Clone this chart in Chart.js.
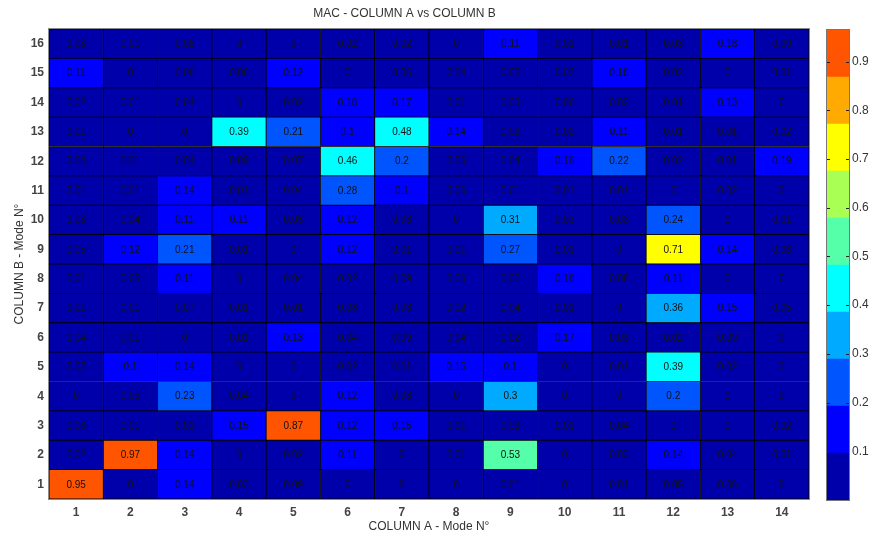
<!DOCTYPE html>
<html>
<head>
<meta charset="utf-8">
<script src="https://cdn.jsdelivr.net/npm/chart.js@4.4.0/dist/chart.umd.min.js"></script>
<style>
  html, body { margin: 0; padding: 0; background: #fff; }
  #wrap { position: relative; width: 871px; height: 535px; }
  #mac { position: absolute; left: 0; top: 0; }
  #bar { position: absolute; left: 800px; top: 0; }
</style>
</head>
<body>
<div id="wrap">
  <canvas id="mac" width="871" height="535"></canvas>
  <canvas id="bar" width="71" height="535"></canvas>
</div>
<script>
// colonnes (COLUMN A) et lignes (COLUMN B)
const colLabels = ['1','2','3','4','5','6','7','8','9','10','11','12','13','14'];
const rowLabels = [1,2,3,4,5,6,7,8,9,10,11,12,13,14,15,16];

// valeurs MAC, une liste par mode de COLUMN B
const b1  = [0.95, 0,    0.14, 0.03, 0.09, 0,    0,    0,    0.01, 0,    0.01, 0.05, 0.06, 0];
const b2  = [0.02, 0.97, 0.14, 0,    0.02, 0.11, 0,    0.01, 0.53, 0,    0.03, 0.14, 0.04, 0.01];
const b3  = [0.06, 0.01, 0.01, 0.15, 0.87, 0.12, 0.15, 0.01, 0.03, 0.01, 0.04, 0,    0,    0.02];
const b4  = [0,    0.05, 0.23, 0.04, 0,    0.12, 0.03, 0,    0.3,  0,    0,    0.2,  0,    0];
const b5  = [0.07, 0.1,  0.14, 0,    0,    0.02, 0.01, 0.15, 0.1,  0,    0.01, 0.39, 0.02, 0];
const b6  = [0.04, 0.01, 0,    0.01, 0.13, 0.04, 0.09, 0.04, 0.02, 0.17, 0.03, 0.02, 0.09, 0];
const b7  = [0.01, 0.01, 0.07, 0.01, 0.01, 0.03, 0.03, 0.02, 0.04, 0.01, 0,    0.36, 0.15, 0.05];
const b8  = [0.01, 0.05, 0.11, 0,    0.04, 0.02, 0.09, 0.06, 0.02, 0.18, 0.08, 0.11, 0,    0];
const b9  = [0.05, 0.12, 0.21, 0.01, 0,    0.12, 0.01, 0.01, 0.27, 0.01, 0,    0.71, 0.14, 0.03];
const b10 = [0.03, 0.04, 0.11, 0.11, 0.03, 0.12, 0.03, 0,    0.31, 0.03, 0.03, 0.24, 0,    0.01];
const b11 = [0.01, 0.01, 0.14, 0.01, 0.04, 0.28, 0.1,  0.06, 0.01, 0.01, 0.01, 0,    0.02, 0];
const b12 = [0.04, 0.01, 0.04, 0.09, 0.07, 0.46, 0.2,  0.05, 0.04, 0.16, 0.22, 0.02, 0.01, 0.19];
const b13 = [0.01, 0,    0,    0.39, 0.21, 0.1,  0.48, 0.14, 0.03, 0.02, 0.11, 0.01, 0.01, 0.02];
const b14 = [0.02, 0.01, 0.04, 0,    0.02, 0.18, 0.17, 0.01, 0.03, 0.06, 0.02, 0.01, 0.13, 0];
const b15 = [0.11, 0,    0.06, 0.06, 0.12, 0,    0.06, 0.04, 0.05, 0.03, 0.18, 0.02, 0,    0.01];
const b16 = [0.03, 0.01, 0.08, 0,    0,    0.02, 0.02, 0,    0.11, 0.01, 0.01, 0.03, 0.18, 0.09];
const rows = [b1,b2,b3,b4,b5,b6,b7,b8,b9,b10,b11,b12,b13,b14,b15,b16];

// colorbar
const barTicks = [0.1,0.2,0.3,0.4,0.5,0.6,0.7,0.8,0.9];
const CMIN = 0, CMAX = 0.965;
const jet10 = [
  'rgb(0,0,170)','rgb(0,0,255)','rgb(0,85,255)','rgb(0,170,255)','rgb(0,255,255)',
  'rgb(85,255,170)','rgb(170,255,85)','rgb(255,255,0)','rgb(255,170,0)','rgb(255,85,0)'
];

function colorOf(v){
    let i = Math.floor((v - CMIN) / (CMAX - CMIN) * jet10.length);
    i = Math.max(0, Math.min(jet10.length - 1, i));
    return jet10[i];
}

const FONT = '"Liberation Sans", Arial, sans-serif';
const TXT = '#333';

// texte des cellules + cadre
const cellText = {
    id: 'cellText',
    afterDatasetsDraw(chart){
        const c = chart.ctx;
        c.save();
        c.font = '10px ' + FONT;
        c.fillStyle = '#111';
        c.textAlign = 'center';
        c.textBaseline = 'middle';
        chart.data.datasets.forEach((ds, i) => {
            const meta = chart.getDatasetMeta(i);
            meta.data.forEach((el, j) => {
                c.fillText(String(ds.values[j]), el.x, (el.y + el.base) / 2 + 0.5);
            });
        });
        const a = chart.chartArea;
        c.strokeStyle = '#8a8a8a';
        c.lineWidth = 1;
        c.strokeRect(a.left - 0.5, a.top - 0.5, a.right - a.left + 1, a.bottom - a.top + 1);
        c.restore();
    }
};

const datasets = rows.map((vals, r) => ({
    label: 'B' + rowLabels[r],
    values: vals,
    data: vals.map(() => [rowLabels[r] - 0.5, rowLabels[r] + 0.5]),
    backgroundColor: vals.map(colorOf),
    borderColor: '#000',
    borderWidth: 0.8,
    borderSkipped: false,
    grouped: false,
    barPercentage: 1,
    categoryPercentage: 1
}));

new Chart(document.getElementById('mac'), {
    type: 'bar',
    data: { labels: colLabels, datasets: datasets },
    options: {
        responsive: false,
        animation: false,
        events: [],
        layout: { padding: { left: 0, right: 62, top: 0, bottom: 0 } },
        plugins: {
            legend: { display: false },
            tooltip: { enabled: false },
            title: {
                display: true,
                text: 'MAC - COLUMN A vs COLUMN B',
                color: TXT,
                font: { family: FONT, size: 12, weight: 'normal' },
                padding: { top: 6, bottom: 8.6 }
            }
        },
        scales: {
            x: {
                grid: { display: false, drawTicks: false },
                border: { display: false },
                ticks: { color: '#444', padding: 6, font: { family: FONT, size: 12, weight: 'bold' } },
                title: { display: true, text: 'COLUMN A - Mode N°', color: TXT, padding: { top: 0, bottom: 1 },
                         font: { family: FONT, size: 12 } },
                afterFit: s => { s.height = 36; }
            },
            y: {
                type: 'linear',
                min: 0.5,
                max: 16.5,
                afterBuildTicks: s => { s.ticks = rowLabels.map(v => ({ value: v })); },
                grid: { display: false, drawTicks: false },
                border: { display: false },
                ticks: { color: '#444', padding: 5, font: { family: FONT, size: 12, weight: 'bold' } },
                title: { display: true, text: 'COLUMN B - Mode N°', color: TXT, padding: { top: 12, bottom: 0 },
                         font: { family: FONT, size: 12 } },
                afterFit: s => { s.width = 49; }
            }
        }
    },
    plugins: [cellText]
});

// colorbar
const barEdges = jet10.map((_, i) => [CMIN + (CMAX - CMIN) * i / jet10.length, CMIN + (CMAX - CMIN) * (i + 1) / jet10.length]);

const barFrame = {
    id: 'barFrame',
    afterDatasetsDraw(chart){
        const c = chart.ctx, a = chart.chartArea, y = chart.scales.y;
        c.save();
        c.strokeStyle = '#222';
        c.lineWidth = 1;
        barTicks.forEach(t => {
            const py = Math.round(y.getPixelForValue(t)) + 0.5;
            c.beginPath();
            c.moveTo(a.left, py); c.lineTo(a.left + 3, py);
            c.moveTo(a.right - 3, py); c.lineTo(a.right, py);
            c.stroke();
        });
        c.strokeStyle = '#777';
        c.strokeRect(a.left - 0.5, a.top - 0.5, a.right - a.left + 1, a.bottom - a.top + 1);
        c.restore();
    }
};

new Chart(document.getElementById('bar'), {
    type: 'bar',
    data: {
        labels: ['c'],
        datasets: barEdges.map((e, i) => ({
            data: [e],
            backgroundColor: jet10[i],
            borderWidth: 0,
            grouped: false,
            barPercentage: 1,
            categoryPercentage: 1
        }))
    },
    options: {
        responsive: false,
        animation: false,
        events: [],
        layout: { padding: { left: 27, right: 0, top: 30, bottom: 35 } },
        plugins: { legend: { display: false }, tooltip: { enabled: false } },
        scales: {
            x: { display: false },
            y: {
                position: 'right',
                min: CMIN,
                max: CMAX,
                afterBuildTicks: s => { s.ticks = barTicks.map(v => ({ value: v })); },
                grid: { display: false, drawTicks: false },
                border: { display: false },
                ticks: { color: TXT, padding: 3, font: { family: FONT, size: 12 } },
                afterFit: s => { s.width = 22; }
            }
        }
    },
    plugins: [barFrame]
});
</script>
</body>
</html>
